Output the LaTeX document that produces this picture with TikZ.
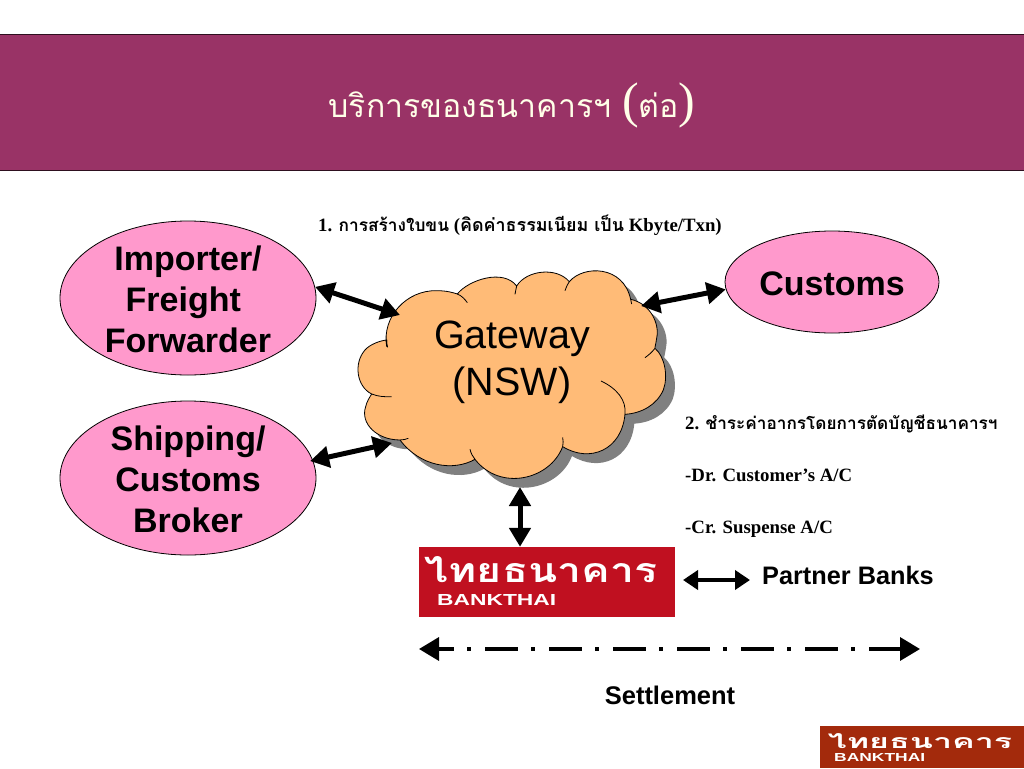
\documentclass[tikz,border=0pt]{standalone}
\usepackage{fontspec}
\usepackage{graphicx}
\usetikzlibrary{arrows.meta,shapes.geometric}
\setmainfont{Liberation Sans}
\newfontfamily\serifl{Liberation Serif}
\newfontfamily\thaif[Script=Thai]{Loma}
\definecolor{banner}{HTML}{993366}
\definecolor{pinkfill}{HTML}{FF99CC}
\definecolor{cloudfill}{HTML}{FFBB77}
\definecolor{logored}{HTML}{C01020}
\definecolor{logobrown}{HTML}{A32A0C}
\definecolor{titlecol}{HTML}{FFFFE8}
\newcommand{\fs}[1]{\fontsize{#1pt}{#1pt}\selectfont}
\newcommand{\cloudbody}{(140,290) .. controls (125,200) and (200,120) .. (290,122)
 .. controls (320,122) and (340,128) .. (352,132)
 .. controls (385,90) and (490,55) .. (530,108)
 .. controls (560,60) and (650,50) .. (688,95)
 .. controls (730,45) and (850,45) .. (872,148)
 .. controls (930,160) and (960,220) .. (950,265)
 .. controls (948,280) and (945,290) .. (945,295)
 .. controls (975,320) and (985,380) .. (970,420)
 .. controls (950,465) and (905,490) .. (855,493)
 .. controls (845,600) and (750,640) .. (668,590)
 .. controls (630,690) and (480,725) .. (405,628)
 .. controls (340,665) and (240,650) .. (180,570)
 .. controls (110,570) and (60,520) .. (77,470)
 .. controls (80,455) and (90,440) .. (95,432)
 .. controls (50,410) and (40,340) .. (75,300)
 .. controls (90,283) and (120,272) .. (140,270) -- cycle}
\tikzset{
 bub/.style={ellipse,draw=black,line width=0.8pt,fill=pinkfill,inner sep=0pt,
   minimum width=256pt,minimum height=154pt,align=center,
   font=\fs{34}\bfseries,text depth=0pt},
 conn/.style={line width=5pt,{Triangle[length=19pt,width=21pt]}-{Triangle[length=19pt,width=21pt]}},
 thin conn/.style={line width=4pt,{Triangle[length=15pt,width=19pt]}-{Triangle[length=15pt,width=19pt]}},
 settle/.style={line width=3.5pt,dash pattern=on 33pt off 13pt on 4pt off 14pt,dash phase=17pt,
   {Triangle[length=20pt,width=23pt]}-{Triangle[length=20pt,width=23pt]}},
 note/.style={anchor=base west,inner sep=0pt,font=\serifl\fs{18.8}\bfseries},
 label/.style={inner sep=0pt,font=\bfseries},
 logotext/.style={inner sep=0pt,text=white,font=\thaif\bfseries},
}
\begin{document}
\begin{tikzpicture}[x=1pt,y=-1pt]
\useasboundingbox (0,0) rectangle (1024,768);
\fill[white] (0,0) rectangle (1024,768);
% banner
\node[draw=black!70!banner,line width=0.8pt,fill=banner,minimum width=1026pt,minimum height=136pt,inner sep=0pt] (head) at (512,102) {};
\node[inner sep=0pt,text=titlecol] (title) at (512,105) {\thaif\fs{32}บริการของธนาคารฯ {\serifl\fs{50}(}ต่อ{\serifl\fs{50})}};
% cloud
\begin{scope}[shift={(340,250)},x=0.3333pt,y=-0.3333pt]
 \fill[black!50,shift={(28,28)}] \cloudbody;
 \filldraw[fill=cloudfill,draw=black,line width=0.8pt] \cloudbody;
 \draw[black,line width=0.8pt]
  (352,132) .. controls (365,137) and (375,148) .. (382,158)
  (530,108) .. controls (528,115) and (527,125) .. (525,133)
  (688,95) .. controls (682,105) and (678,112) .. (675,122)
  (872,148) .. controls (873,152) and (874,157) .. (875,162)
  (945,295) .. controls (935,308) and (925,316) .. (915,323)
  (855,493) .. controls (860,450) and (830,415) .. (783,393)
  (668,590) .. controls (670,580) and (670,572) .. (668,562)
  (405,628) .. controls (398,620) and (393,610) .. (390,598)
  (180,570) .. controls (190,570) and (197,568) .. (205,565)
  (95,432) .. controls (115,440) and (135,441) .. (155,440)
  (140,270) .. controls (140,278) and (140,285) .. (143,292);
\end{scope}
\node[inner sep=0pt,align=center,font=\fs{39.5},text depth=0pt] (gw) at (512,358) {Gateway\\[8pt](NSW)};
% ellipses
\node[bub] (imp) at (188,298) {\rule{0pt}{26pt}Importer/\\[7pt]Freight~~\\[7pt]Forwarder};
\node[bub] (ship) at (188,478) {\rule{0pt}{26pt}Shipping/\\[7pt]Customs\\[7pt]Broker};
\node[bub,minimum width=214pt,minimum height=102pt] (cus) at (832,282) {\rule{0pt}{26pt}Customs};
% logos
\node[fill=logored,minimum width=256pt,minimum height=70pt,inner sep=0pt] (bank) at (547,582) {};
\node[logotext] (bankth) at (541,570) {\resizebox{232pt}{26pt}{\thaif\bfseries ไทยธนาคาร}};
\node[inner sep=0pt,text=white,anchor=south west,font=\bfseries] (bankla) at (437,606) {\resizebox{119pt}{11pt}{BANKTHAI}};
\node[fill=logobrown,minimum width=204pt,minimum height=42pt,inner sep=0pt] (foot) at (922,747) {};
\node[logotext] (footth) at (920,741) {\resizebox{184pt}{15pt}{\thaif\bfseries ไทยธนาคาร}};
\node[inner sep=0pt,text=white,anchor=south west,font=\bfseries] (footla) at (834,762) {\resizebox{91pt}{8pt}{BANKTHAI}};
% labels
\node[note] (n1) at (318,231) {1. {\thaif\fs{17.3}การสร้างใบขน} ({\thaif\fs{17.9}คิดค่าธรรมเนียม เป็น} Kbyte/Txn)};
\node[note] (n2) at (685,429) {2. {\thaif\fs{17.2}ชำระค่าอากรโดยการตัดบัญชีธนาคารฯ}};
\node[note] (n3) at (685,481) {-Dr. Customer’s A/C};
\node[note] (n4) at (685,533) {-Cr. Suspense A/C};
\node[label,font=\bfseries\fs{25.3},anchor=base west] (partner) at (762,584) {Partner Banks};
\node[label,font=\bfseries\fs{25.5},anchor=base] (sett) at (670,704) {Settlement};
% connector ends
\coordinate (gwW) at (400,315);
\coordinate (gwE) at (641,306);
\coordinate (gwSW) at (392,443);
\coordinate (gwS) at (520,487);
\coordinate (bankE) at (683,580);
\coordinate (partnerW) at (750,580);
\coordinate (setL) at (419,649);
\coordinate (setR) at (920,649);
\draw[conn] (imp.5) -- (gwW);
\draw[conn] (cus.184) -- (gwE);
\draw[conn,shorten <=-3pt] (ship.8) -- (gwSW);
\draw[conn] (gwS) -- (gwS |- bank.north);
\draw[thin conn] (bankE) -- (partnerW);
\draw[settle] (setL) -- (setR);
\end{tikzpicture}
\end{document}
